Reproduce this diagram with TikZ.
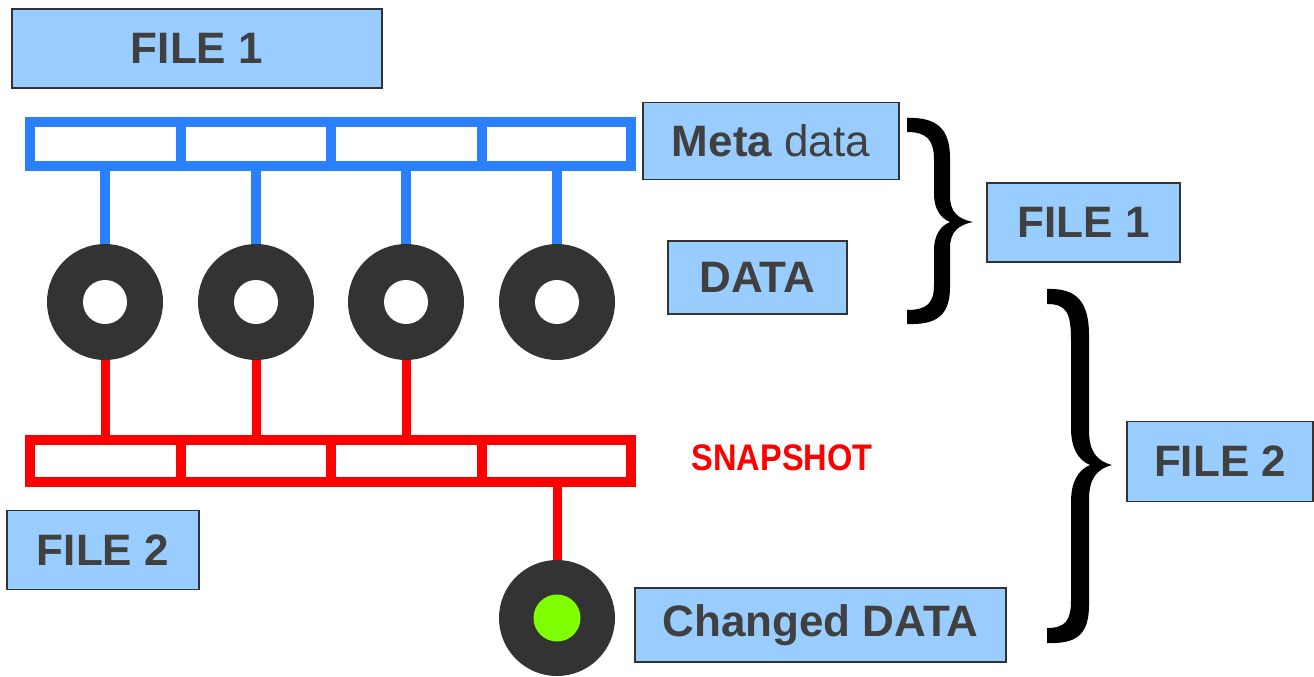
\documentclass[tikz,border=0pt]{standalone}
\usepackage{fontspec}
\setmainfont{Liberation Sans}
\definecolor{boxblue}{HTML}{99CCFF}
\definecolor{boxline}{HTML}{333333}
\definecolor{txtgray}{HTML}{404040}
\definecolor{barblue}{HTML}{2B80FF}
\definecolor{barred}{HTML}{FF0000}
\definecolor{dark}{HTML}{333333}
\definecolor{lime}{HTML}{80FF00}
\tikzset{
  lbl/.style={draw=boxline, fill=boxblue, line width=1.3pt, text=txtgray,
    font=\fontsize{44}{50}\selectfont\bfseries, inner sep=0pt},
  bluebar/.style={draw=barblue, line width=10pt, inner sep=0pt},
  redbar/.style={draw=barred, line width=10pt, inner sep=0pt},
  bluestem/.style={draw=barblue, line width=10pt},
  redstem/.style={draw=barred, line width=9pt},
  disk/.style={circle, fill=dark, minimum size=116pt, inner sep=0pt},
  hole/.style={circle, fill=white, minimum size=44pt, inner sep=0pt},
  greenhole/.style={circle, fill=lime, minimum size=47pt, inner sep=0pt},
  braceshape/.style={fill=black, draw=none},
}
\begin{document}
\begin{tikzpicture}[x=1pt,y=-1pt]
\useasboundingbox (0,0) rectangle (1314,677);

% label boxes
\node[lbl, minimum width=370pt, minimum height=79pt] (f1top) at (197,48.5) {FILE 1};
\node[lbl, minimum width=256pt, minimum height=77pt] (meta) at (771,141) {Meta \mdseries data};
\node[lbl, minimum width=179pt, minimum height=73pt] (data) at (757.5,277.5) {DATA};
\node[lbl, minimum width=193pt, minimum height=79pt] (f1r) at (1083.5,222.5) {FILE 1};
\node[lbl, minimum width=186pt, minimum height=80pt] (f2r) at (1220,461.5) {FILE 2};
\node[lbl, minimum width=192pt, minimum height=79pt] (f2l) at (103,550) {FILE 2};
\node[lbl, minimum width=371pt, minimum height=74pt] (chg) at (820.5,625) {Changed DATA};
\node[text=barred, font=\fontsize{37}{40}\selectfont\bfseries, xscale=0.88] (snap) at (782,458) {SNAPSHOT};

% metadata bar
\node[bluebar, minimum width=601pt, minimum height=44pt] (mbar) at (330.5,144) {};
\foreach \x in {180.5,331,481.5} \draw[bluestem] (\x,122) -- (\x,166);

% snapshot bar
\node[redbar, minimum width=601pt, minimum height=42pt] (sbar) at (330.5,461) {};
\foreach \x in {180.5,331,481.5} \draw[redstem, line width=10pt] (\x,440) -- (\x,482);

% data disks
\foreach \i/\x in {1/105,2/256,3/406,4/557} {
  \node[disk] (d\i) at (\x,302) {};
  \node[hole] (h\i) at (d\i) {};
  \draw[bluestem] (d\i.north) -- (d\i.north |- mbar.south);
}
\foreach \i in {1,2,3} \draw[redstem] (d\i.south) -- (d\i.south |- sbar.north);

% changed data disk
\node[disk] (d5) at (557,618) {};
\node[greenhole] (g5) at (d5) {};
\draw[redstem] (sbar.south -| d5) -- (d5.north);

% braces (filled outlines)
\fill[braceshape] (907,118) .. controls (936,117) and (950,128) .. (950,158) -- (950,196)
  .. controls (950,212) and (958,219) .. (973,222)
  .. controls (958,225) and (950,232) .. (950,248) -- (950,287)
  .. controls (950,316) and (936,325) .. (907,324) -- (907,310)
  .. controls (927,310) and (934,303) .. (934,285) -- (934,250)
  .. controls (934,236) and (940,226) .. (950,222)
  .. controls (940,218) and (934,208) .. (934,194) -- (934,160)
  .. controls (934,140) and (927,132) .. (907,132) -- cycle;
\fill[braceshape] (1047,289) .. controls (1075,288) and (1089,300) .. (1089,335) -- (1089,430)
  .. controls (1089,452) and (1097,461) .. (1112,465)
  .. controls (1097,469) and (1089,478) .. (1089,500) -- (1089,605)
  .. controls (1089,636) and (1075,644) .. (1047,643) -- (1047,628)
  .. controls (1066,628) and (1071,620) .. (1071,600) -- (1071,502)
  .. controls (1071,482) and (1078,470) .. (1090,465)
  .. controls (1078,460) and (1071,448) .. (1071,428) -- (1071,340)
  .. controls (1071,312) and (1066,304) .. (1047,304) -- cycle;
\end{tikzpicture}
\end{document}
